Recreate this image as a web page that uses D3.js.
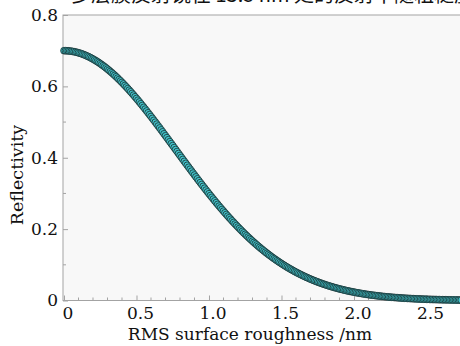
<!DOCTYPE html>
<html>
<head>
<meta charset="utf-8">
<script src="https://cdn.jsdelivr.net/npm/d3@7"></script>
<style>
  body { margin: 0; background: #fff; }
  svg { display: block; }
  text { font-family: "DejaVu Serif", serif; fill: #111; }
</style>
</head>
<body>
<svg id="chart" width="460" height="346"></svg>
<script>
// sampled RMS roughness (nm)
const roughness = [
  0.00,0.01,0.02,0.03,0.04,0.05,0.06,0.07,0.08,0.09,0.10,0.11,0.12,0.13,0.14,0.15,0.16,0.17,0.18,0.19,
  0.20,0.21,0.22,0.23,0.24,0.25,0.26,0.27,0.28,0.29,0.30,0.31,0.32,0.33,0.34,0.35,0.36,0.37,0.38,0.39,
  0.40,0.41,0.42,0.43,0.44,0.45,0.46,0.47,0.48,0.49,0.50,0.51,0.52,0.53,0.54,0.55,0.56,0.57,0.58,0.59,
  0.60,0.61,0.62,0.63,0.64,0.65,0.66,0.67,0.68,0.69,0.70,0.71,0.72,0.73,0.74,0.75,0.76,0.77,0.78,0.79,
  0.80,0.81,0.82,0.83,0.84,0.85,0.86,0.87,0.88,0.89,0.90,0.91,0.92,0.93,0.94,0.95,0.96,0.97,0.98,0.99,
  1.00,1.01,1.02,1.03,1.04,1.05,1.06,1.07,1.08,1.09,1.10,1.11,1.12,1.13,1.14,1.15,1.16,1.17,1.18,1.19,
  1.20,1.21,1.22,1.23,1.24,1.25,1.26,1.27,1.28,1.29,1.30,1.31,1.32,1.33,1.34,1.35,1.36,1.37,1.38,1.39,
  1.40,1.41,1.42,1.43,1.44,1.45,1.46,1.47,1.48,1.49,1.50,1.51,1.52,1.53,1.54,1.55,1.56,1.57,1.58,1.59,
  1.60,1.61,1.62,1.63,1.64,1.65,1.66,1.67,1.68,1.69,1.70,1.71,1.72,1.73,1.74,1.75,1.76,1.77,1.78,1.79,
  1.80,1.81,1.82,1.83,1.84,1.85,1.86,1.87,1.88,1.89,1.90,1.91,1.92,1.93,1.94,1.95,1.96,1.97,1.98,1.99,
  2.00,2.01,2.02,2.03,2.04,2.05,2.06,2.07,2.08,2.09,2.10,2.11,2.12,2.13,2.14,2.15,2.16,2.17,2.18,2.19,
  2.20,2.21,2.22,2.23,2.24,2.25,2.26,2.27,2.28,2.29,2.30,2.31,2.32,2.33,2.34,2.35,2.36,2.37,2.38,2.39,
  2.40,2.41,2.42,2.43,2.44,2.45,2.46,2.47,2.48,2.49,2.50,2.51,2.52,2.53,2.54,2.55,2.56,2.57,2.58,2.59,
  2.60,2.61,2.62,2.63,2.64,2.65,2.66,2.67,2.68,2.69,2.70,2.71,2.72,2.73,2.74
];

// reflectivity
const reflectivity = [
  0.7000,0.6999,0.6998,0.6995,0.6990,0.6985,0.6979,0.6971,0.6962,0.6952,
  0.6941,0.6928,0.6915,0.6900,0.6884,0.6867,0.6849,0.6830,0.6810,0.6788,
  0.6766,0.6742,0.6718,0.6692,0.6666,0.6638,0.6609,0.6579,0.6549,0.6517,
  0.6484,0.6451,0.6416,0.6381,0.6345,0.6308,0.6270,0.6231,0.6191,0.6151,
  0.6110,0.6068,0.6025,0.5982,0.5938,0.5893,0.5848,0.5802,0.5755,0.5708,
  0.5660,0.5612,0.5563,0.5513,0.5463,0.5413,0.5362,0.5311,0.5259,0.5207,
  0.5155,0.5102,0.5049,0.4996,0.4942,0.4888,0.4834,0.4780,0.4725,0.4670,
  0.4615,0.4561,0.4505,0.4450,0.4395,0.4340,0.4284,0.4229,0.4174,0.4118,
  0.4063,0.4008,0.3953,0.3898,0.3843,0.3788,0.3733,0.3679,0.3624,0.3570,
  0.3516,0.3463,0.3409,0.3356,0.3303,0.3250,0.3198,0.3146,0.3094,0.3043,
  0.2992,0.2941,0.2891,0.2841,0.2791,0.2742,0.2693,0.2645,0.2597,0.2550,
  0.2503,0.2456,0.2410,0.2364,0.2319,0.2275,0.2230,0.2187,0.2143,0.2101,
  0.2058,0.2017,0.1975,0.1935,0.1894,0.1855,0.1816,0.1777,0.1739,0.1701,
  0.1664,0.1628,0.1592,0.1556,0.1521,0.1487,0.1453,0.1420,0.1387,0.1355,
  0.1323,0.1292,0.1261,0.1231,0.1201,0.1172,0.1144,0.1115,0.1088,0.1061,
  0.1034,0.1008,0.0982,0.0957,0.0932,0.0908,0.0885,0.0861,0.0839,0.0816,
  0.0795,0.0773,0.0752,0.0732,0.0712,0.0692,0.0673,0.0654,0.0636,0.0618,
  0.0600,0.0583,0.0566,0.0550,0.0534,0.0518,0.0503,0.0488,0.0474,0.0459,
  0.0446,0.0432,0.0419,0.0406,0.0394,0.0382,0.0370,0.0358,0.0347,0.0336,
  0.0325,0.0315,0.0305,0.0295,0.0286,0.0276,0.0267,0.0259,0.0250,0.0242,
  0.0234,0.0226,0.0218,0.0211,0.0204,0.0197,0.0190,0.0183,0.0177,0.0171,
  0.0165,0.0159,0.0153,0.0148,0.0143,0.0138,0.0133,0.0128,0.0123,0.0119,
  0.0114,0.0110,0.0106,0.0102,0.0098,0.0095,0.0091,0.0088,0.0084,0.0081,
  0.0078,0.0075,0.0072,0.0069,0.0067,0.0064,0.0062,0.0059,0.0057,0.0055,
  0.0052,0.0050,0.0048,0.0046,0.0044,0.0043,0.0041,0.0039,0.0038,0.0036,
  0.0035,0.0033,0.0032,0.0030,0.0029,0.0028,0.0027,0.0026,0.0024,0.0023,
  0.0022,0.0021,0.0020,0.0020,0.0019,0.0018,0.0017,0.0016,0.0016,0.0015,
  0.0014,0.0014,0.0013,0.0012,0.0012
];

const xTicks = [0, 0.5, 1.0, 1.5, 2.0, 2.5];
const xTickLabels = ["0", "0.5", "1.0", "1.5", "2.0", "2.5"];
const xMinorTicks = [0.1, 0.2, 0.3, 0.4, 0.6, 0.7, 0.8, 0.9, 1.1, 1.2, 1.3, 1.4,
                     1.6, 1.7, 1.8, 1.9, 2.1, 2.2, 2.3, 2.4, 2.6, 2.7];
const yTicks = [0, 0.2, 0.4, 0.6, 0.8];
const yTickLabels = ["0", "0.2", "0.4", "0.6", "0.8"];
const yMinorTicks = [0.1, 0.3, 0.5, 0.7];
const caption = "多层膜反射镜在 13.5 nm 处的反射率随粗糙度的变化";

const svg = d3.select("#chart");
const plotLeft = 63, plotTop = 15, plotBottom = 300.5, plotRight = 463;
const axisColor = "#a3a3a3";

const x = d3.scaleLinear().domain([-0.007, 2.752]).range([plotLeft, plotRight]);
const y = d3.scaleLinear().domain([0, 0.8]).range([plotBottom, plotTop]);

// cropped caption above the figure
svg.append("text")
  .attr("x", 71).attr("y", 2)
  .style("font-family", "'Noto Sans CJK SC', sans-serif")
  .style("font-size", "20px")
  .text(caption);

// plot background
svg.append("rect")
  .attr("x", plotLeft).attr("y", plotTop)
  .attr("width", plotRight - plotLeft).attr("height", plotBottom - plotTop)
  .attr("fill", "#f8f8f8")
  .attr("stroke", axisColor).attr("stroke-width", 1);

// minor ticks
svg.append("g")
  .selectAll("line").data(xMinorTicks).enter().append("line")
  .attr("x1", d => x(d)).attr("x2", d => x(d))
  .attr("y1", plotBottom).attr("y2", plotBottom - 3)
  .attr("stroke", axisColor);
svg.append("g")
  .selectAll("line").data(yMinorTicks).enter().append("line")
  .attr("x1", plotLeft).attr("x2", plotLeft + 3)
  .attr("y1", d => y(d)).attr("y2", d => y(d))
  .attr("stroke", axisColor);

// x axis
const gx = svg.append("g")
  .attr("transform", "translate(0," + plotBottom + ")")
  .call(d3.axisBottom(x).tickValues(xTicks).tickSize(-5).tickPadding(6)
    .tickFormat((d, i) => xTickLabels[i]));
gx.select(".domain").remove();
gx.selectAll(".tick line").attr("stroke", axisColor);
gx.selectAll(".tick text")
  .attr("dx", 3.5)
  .style("font-size", "17px")
  .style("font-family", "'DejaVu Serif', serif")
  .attr("fill", "#111");

// y axis
const gy = svg.append("g")
  .attr("transform", "translate(" + plotLeft + ",0)")
  .call(d3.axisLeft(y).tickValues(yTicks).tickSize(-5).tickPadding(5)
    .tickFormat((d, i) => yTickLabels[i]));
gy.select(".domain").remove();
gy.selectAll(".tick line").attr("stroke", axisColor);
gy.selectAll(".tick text")
  .style("font-size", "17px")
  .style("font-family", "'DejaVu Serif', serif")
  .attr("fill", "#111");

// data markers
const pts = roughness.map((r, i) => ({ r: r, v: reflectivity[i] }));
svg.append("g")
  .selectAll("circle").data(pts).enter().append("circle")
  .attr("cx", d => x(d.r))
  .attr("cy", d => y(d.v))
  .attr("r", 3.4)
  .attr("fill", "#42c3ca")
  .attr("stroke", "#152527")
  .attr("stroke-width", 0.75);

// axis titles
svg.append("text")
  .attr("x", 250).attr("y", 340)
  .attr("text-anchor", "middle")
  .style("font-size", "17px")
  .text("RMS surface roughness /nm");

svg.append("text")
  .attr("transform", "translate(23," + 175 + ") rotate(-90)")
  .attr("text-anchor", "middle")
  .style("font-size", "17.5px")
  .text("Reflectivity");
</script>
</body>
</html>
